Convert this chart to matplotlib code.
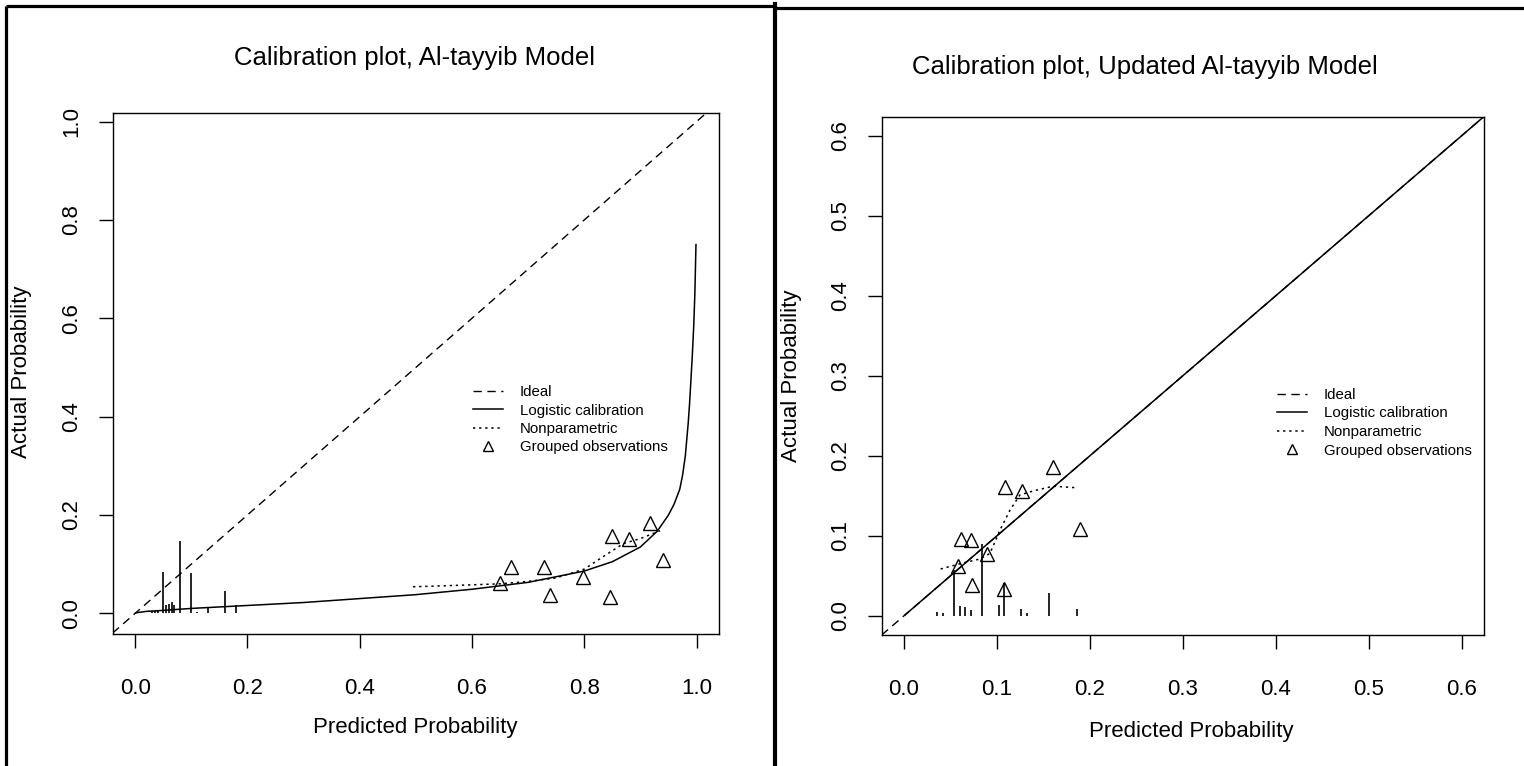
import matplotlib
matplotlib.use("Agg")
import matplotlib.pyplot as plt
from matplotlib.lines import Line2D

plt.rcParams["font.family"] = ["Liberation Sans", "DejaVu Sans"]

W, H = 1524, 766

# --- Al-tayyib model (left) ---
left_title = "Calibration plot, Al-tayyib Model"
left_logit_x = [0.001, 0.02, 0.05, 0.10, 0.20, 0.30, 0.40, 0.50, 0.60, 0.70, 0.80,
                0.85, 0.90, 0.93, 0.95, 0.96, 0.97, 0.975, 0.98, 0.985, 0.9875,
                0.99, 0.9925, 0.995, 0.997, 0.999]
left_logit_y = [0.001, 0.004, 0.006, 0.010, 0.016, 0.022, 0.030, 0.038, 0.049, 0.063, 0.086,
                0.105, 0.135, 0.167, 0.200, 0.222, 0.252, 0.280, 0.320, 0.385, 0.425,
                0.475, 0.525, 0.585, 0.650, 0.750]
left_np_x = [0.495, 0.55, 0.60, 0.65, 0.70, 0.75, 0.80, 0.84, 0.87, 0.90, 0.935]
left_np_y = [0.054, 0.056, 0.058, 0.060, 0.065, 0.072, 0.090, 0.120, 0.142, 0.152, 0.168]
left_grp_x = [0.650, 0.669, 0.728, 0.739, 0.798, 0.845, 0.850, 0.879, 0.917, 0.940]
left_grp_y = [0.061, 0.094, 0.094, 0.037, 0.074, 0.034, 0.158, 0.151, 0.183, 0.108]
left_spike_x = [0.03, 0.035, 0.04, 0.05, 0.055, 0.06, 0.065, 0.07, 0.08, 0.10, 0.11, 0.13, 0.16, 0.18]
left_spike_h = [0.005, 0.005, 0.007, 0.085, 0.016, 0.018, 0.023, 0.016, 0.148, 0.082, 0.003, 0.012, 0.045, 0.016]
left_ticks = [0.0, 0.2, 0.4, 0.6, 0.8, 1.0]

# --- updated model (right) ---
right_title = "Calibration plot, Updated Al-tayyib Model"
right_logit_x = [0.001, 0.10, 0.30, 0.63]
right_logit_y = [0.001, 0.10, 0.30, 0.63]
right_np_x = [0.0394, 0.060, 0.0817, 0.0925, 0.1032, 0.114, 0.1247, 0.139, 0.1606, 0.1857]
right_np_y = [0.0585, 0.065, 0.071, 0.078, 0.107, 0.132, 0.151, 0.156, 0.162, 0.160]
right_grp_x = [0.0584, 0.061, 0.0717, 0.073, 0.0896, 0.1075, 0.109, 0.1266, 0.1606, 0.189]
right_grp_y = [0.062, 0.096, 0.0946, 0.0386, 0.0768, 0.0336, 0.161, 0.1557, 0.186, 0.108]
right_spike_x = [0.036, 0.042, 0.054, 0.060, 0.066, 0.072, 0.084, 0.102, 0.108, 0.126, 0.132, 0.156, 0.186]
right_spike_h = [0.005, 0.003, 0.057, 0.012, 0.011, 0.007, 0.090, 0.013, 0.041, 0.008, 0.003, 0.029, 0.009]
right_ticks = [0.0, 0.1, 0.2, 0.3, 0.4, 0.5, 0.6]

legend_labels = ["Ideal", "Logistic calibration", "Nonparametric", "Grouped observations"]

DASH = (0, (6, 4))
DOT = (0, (1.5, 2.5))


def px_box(l, t, r, b):
    return [l / W, 1 - b / H, (r - l) / W, (b - t) / H]


def fx(x):
    return x / W


def fy(y):
    return 1 - y / H


def calib_panel(ax, lx, ly, nx, ny, gx, gy, sx, sh, ticks, xlim, ylim):
    ax.axline((0, 0), (1, 1), color="black", lw=1.0, linestyle=DASH)
    ax.plot(lx, ly, color="black", lw=1.1)
    ax.plot(nx, ny, color="black", lw=1.1, linestyle=DOT)
    ax.plot(gx, gy, linestyle="none", marker="^", markersize=10,
            markerfacecolor="none", markeredgecolor="black", markeredgewidth=1.0)
    ax.vlines(sx, 0, sh, color="black", lw=1.2)
    ax.set_xlim(*xlim)
    ax.set_ylim(*ylim)
    ax.set_xticks(ticks)
    ax.set_yticks(ticks)
    ax.set_xticklabels([f"{t:.1f}" for t in ticks])
    ax.set_yticklabels([f"{t:.1f}" for t in ticks], rotation=90, va="center")
    ax.tick_params(axis="both", direction="out", length=10, width=1.0,
                   labelsize=16, color="black")
    ax.tick_params(axis="x", pad=22)
    ax.tick_params(axis="y", pad=12)
    for sp in ax.spines.values():
        sp.set_linewidth(1.0)


def add_legend(ax, x, y):
    handles = [
        Line2D([], [], color="black", lw=1.0, linestyle=DASH),
        Line2D([], [], color="black", lw=1.1),
        Line2D([], [], color="black", lw=1.1, linestyle=DOT),
        Line2D([], [], linestyle="none", marker="^", markersize=7,
               markerfacecolor="none", markeredgecolor="black", markeredgewidth=1.0),
    ]
    ax.legend(handles, legend_labels, loc="upper left",
              bbox_to_anchor=(fx(x), fy(y)), bbox_transform=ax.figure.transFigure,
              frameon=False, fontsize=10.8, borderpad=0, borderaxespad=0,
              handlelength=2.0, handletextpad=1.1, labelspacing=0.3)


fig = plt.figure(figsize=(W / 100, H / 100), dpi=100)

axL = fig.add_axes(px_box(112.7, 112.5, 719, 633.5))
calib_panel(axL, left_logit_x, left_logit_y, left_np_x, left_np_y,
            left_grp_x, left_grp_y, left_spike_x, left_spike_h,
            left_ticks, (-0.04, 1.04), (-0.041, 1.0185))
add_legend(axL, 473, 385)

axR = fig.add_axes(px_box(881.7, 116.5, 1484, 635))
calib_panel(axR, right_logit_x, right_logit_y, right_np_x, right_np_y,
            right_grp_x, right_grp_y, right_spike_x, right_spike_h,
            right_ticks, (-0.024, 0.624), (-0.024, 0.624))
add_legend(axR, 1277, 388)

# titles and axis labels
fig.text(fx(415), fy(58), left_title, ha="center", va="center", fontsize=18.5)
fig.text(fx(1145), fy(67), right_title, ha="center", va="center", fontsize=18.5)
fig.text(fx(415), fy(728), "Predicted Probability", ha="center", va="center", fontsize=16)
fig.text(fx(1191), fy(731), "Predicted Probability", ha="center", va="center", fontsize=16)
fig.text(fx(22), fy(372), "Actual Probability", ha="center", va="center",
         rotation=90, fontsize=16)
fig.text(fx(791), fy(376), "Actual Probability", ha="center", va="center",
         rotation=90, fontsize=16)

# panel frames
frame_kw = dict(transform=fig.transFigure, color="black", lw=2.3, solid_capstyle="butt")
fig.add_artist(Line2D([fx(6), fx(775)], [fy(6), fy(6)], **frame_kw))
fig.add_artist(Line2D([fx(6), fx(6)], [fy(6), fy(766)], **frame_kw))
fig.add_artist(Line2D([fx(774.5), fx(774.5)], [fy(4), fy(766)],
                      transform=fig.transFigure, color="black", lw=3.0))
fig.add_artist(Line2D([fx(776), fx(1524)], [fy(8), fy(8)], **frame_kw))

fig.savefig("out.png", dpi=100, facecolor="white")
